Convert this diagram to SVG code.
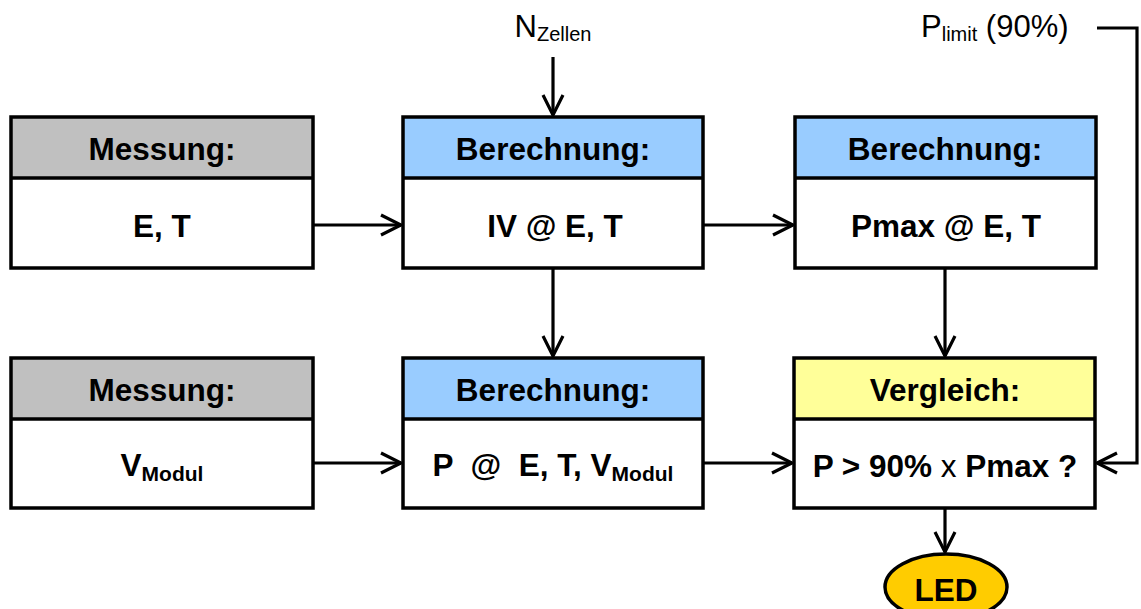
<svg xmlns="http://www.w3.org/2000/svg" width="1141" height="609" viewBox="0 0 1141 609">
  <defs>
    <marker id="arrow" markerUnits="userSpaceOnUse" markerWidth="26" markerHeight="26" viewBox="0 0 26 26" refX="23" refY="13" orient="auto">
      <path d="M3,3 L23,13 L3,23" fill="none" stroke="#000" stroke-width="3.2"/>
    </marker>
  </defs>
  <style>
    .box { fill: none; stroke: #000; stroke-width: 3.5; }
    .hdr-gray { fill: #C0C0C0; }
    .hdr-blue { fill: #99CCFF; }
    .hdr-yellow { fill: #FFFF99; }
    .div { stroke: #000; stroke-width: 3.5; }
    .title { font-family: "Liberation Sans", Arial, sans-serif; font-weight: bold; font-size: 31.5px; text-anchor: middle; }
    .body { font-family: "Liberation Sans", Arial, sans-serif; font-weight: bold; font-size: 31.5px; text-anchor: middle; white-space: pre; }
    .label { font-family: "Liberation Sans", Arial, sans-serif; font-size: 31px; white-space: pre; }
    .conn { fill: none; stroke: #000; stroke-width: 3.2; }
  </style>
  <rect width="1141" height="609" fill="#fff"/>

  <!-- Messung: E, T -->
  <g id="mess-et">
    <rect class="hdr-gray" x="11" y="117" width="302" height="61"/>
    <rect class="box" x="11" y="117" width="302" height="151"/>
    <line class="div" x1="11" y1="178" x2="313" y2="178"/>
    <text class="title" x="162" y="160">Messung:</text>
    <text class="body" x="162" y="237">E, T</text>
  </g>

  <!-- Berechnung: IV @ E, T -->
  <g id="calc-iv">
    <rect class="hdr-blue" x="403" y="117" width="300" height="61"/>
    <rect class="box" x="403" y="117" width="300" height="151"/>
    <line class="div" x1="403" y1="178" x2="703" y2="178"/>
    <text class="title" x="553" y="160">Berechnung:</text>
    <text class="body" x="555" y="237">IV @ E, T</text>
  </g>

  <!-- Berechnung: Pmax @ E, T -->
  <g id="calc-pmax">
    <rect class="hdr-blue" x="795" y="117" width="301" height="61"/>
    <rect class="box" x="795" y="117" width="301" height="151"/>
    <line class="div" x1="795" y1="178" x2="1096" y2="178"/>
    <text class="title" x="945" y="160">Berechnung:</text>
    <text class="body" x="946" y="237">Pmax @ E, T</text>
  </g>

  <!-- Messung: V_Modul -->
  <g id="mess-v">
    <rect class="hdr-gray" x="11" y="358" width="302" height="61"/>
    <rect class="box" x="11" y="358" width="302" height="150"/>
    <line class="div" x1="11" y1="419" x2="313" y2="419"/>
    <text class="title" x="162" y="401">Messung:</text>
    <text class="body" x="162" y="476">V<tspan font-size="21" dy="5">Modul</tspan></text>
  </g>

  <!-- Berechnung: P @ E, T, V_Modul -->
  <g id="calc-p">
    <rect class="hdr-blue" x="403" y="358" width="300" height="61"/>
    <rect class="box" x="403" y="358" width="300" height="150"/>
    <line class="div" x1="403" y1="419" x2="703" y2="419"/>
    <text class="title" x="553" y="401">Berechnung:</text>
    <text class="body" x="553" y="476">P  @  E, T, V<tspan font-size="21" dy="5">Modul</tspan></text>
  </g>

  <!-- Vergleich -->
  <g id="compare">
    <rect class="hdr-yellow" x="794" y="358" width="301" height="61"/>
    <rect class="box" x="794" y="358" width="301" height="150"/>
    <line class="div" x1="794" y1="419" x2="1095" y2="419"/>
    <text class="title" x="945" y="401">Vergleich:</text>
    <text class="body" x="945" y="477">P &gt; 90% <tspan font-weight="normal">x</tspan> Pmax ?</text>
  </g>

  <!-- LED -->
  <g id="led">
    <ellipse cx="946" cy="587" rx="61" ry="33" fill="#FFCC00" stroke="#000" stroke-width="3.5"/>
    <text class="body" x="946" y="601">LED</text>
  </g>

  <!-- external inputs -->
  <g id="n-zellen">
    <text class="label" x="553" y="37" text-anchor="middle">N<tspan font-size="20" dy="4">Zellen</tspan></text>
  </g>
  <g id="p-limit">
    <text class="label" x="921" y="37">P<tspan font-size="20" dy="4">limit</tspan><tspan dy="-4"> (90%)</tspan></text>
  </g>

  <g id="connectors">
    <line class="conn" x1="313" y1="225" x2="401" y2="225" marker-end="url(#arrow)"/>
    <line class="conn" x1="703" y1="225" x2="793" y2="225" marker-end="url(#arrow)"/>
    <line class="conn" x1="553" y1="268" x2="553" y2="356" marker-end="url(#arrow)"/>
    <line class="conn" x1="945" y1="268" x2="945" y2="356" marker-end="url(#arrow)"/>
    <line class="conn" x1="313" y1="463" x2="401" y2="463" marker-end="url(#arrow)"/>
    <line class="conn" x1="703" y1="463" x2="792" y2="463" marker-end="url(#arrow)"/>
    <line class="conn" x1="945" y1="508" x2="945" y2="552" marker-end="url(#arrow)"/>
    <line class="conn" x1="553" y1="57" x2="553" y2="115" marker-end="url(#arrow)"/>
    <polyline class="conn" points="1097,28 1137,28 1137,463 1097,463" marker-end="url(#arrow)"/>
  </g>
</svg>
